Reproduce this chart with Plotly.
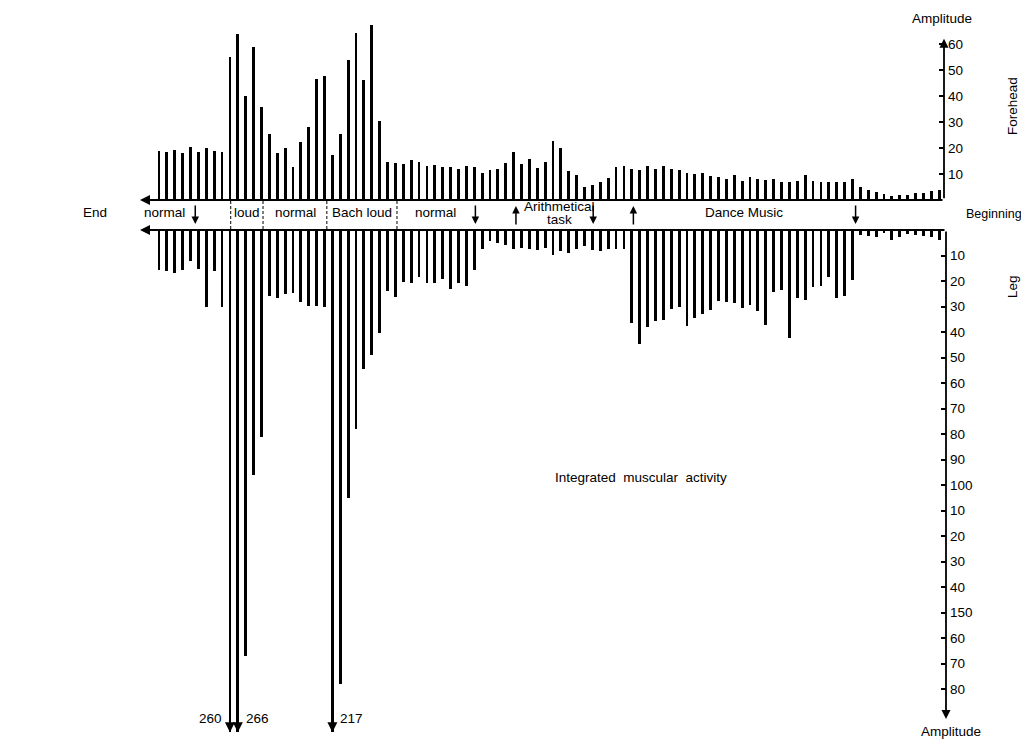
import plotly.graph_objects as go

# ---- data (intervals shown left to right: End ... Beginning) ----
forehead = [19, 18.3, 19.2, 18, 20.5, 18.3, 19.9, 19, 18.3,
            54.9, 64, 40, 59, 35.6, 25.4, 18, 20, 12.8, 22.4, 28.2,
            46.5, 47.6, 17.4, 25.4, 53.8, 64.2, 46, 67.3, 30.3, 14.5,
            14.1, 14, 15.5, 14.5, 13.1, 13.3, 12.8, 12.8, 12, 13.1,
            12.8, 10.3, 11.5, 12, 14.4, 18.3, 13.8, 15.6, 12.2, 14.6,
            22.8, 19.9, 11.2, 9.5, 4.9, 5.6, 6.9, 8.3, 12.6, 13,
            12, 11.4, 13, 11.8, 13, 11.8, 11.4, 10.5, 10.1, 10.5,
            9.2, 9, 8.2, 9.5, 7.3, 9, 7.9, 7.7, 8.2, 6.9,
            6.9, 7.4, 9.5, 7.4, 6.9, 6.9, 6.9, 6.9, 8.2, 5,
            3.7, 3, 2.5, 1.7, 1.8, 2, 2.7, 2.7, 3.5, 4]
leg = [15.6, 16, 16.9, 15.6, 12, 15.2, 30.3, 16, 30.3,
       260, 266, 167, 96, 81, 26, 26.7, 25, 24.7, 28.3, 29.7,
       29.7, 30, 217, 178, 105, 78, 54.5, 49, 40.4, 23.8,
       26.3, 20.4, 20.8, 18.5, 20.9, 20.9, 19.3, 23.3, 20.7, 22,
       15.7, 7.6, 4.3, 5, 6, 7.6, 6.9, 7.6, 7.8, 6.9,
       9.9, 8.4, 8.9, 7.3, 6.3, 7.8, 8.4, 7.3, 7.3, 7.3,
       36.3, 44.8, 37.9, 35.7, 35.4, 31.1, 30, 37.6, 34.4, 33,
       31.5, 28, 28.3, 28.7, 30.6, 29.6, 31.6, 37.1, 24.4, 23.5,
       42.3, 26.5, 27.3, 22.2, 22.1, 18.6, 26.5, 26, 19.5, 2.1,
       2.3, 2.6, 1, 3.9, 2.6, 1.7, 2.1, 2.3, 2.6, 3.9]
intervals = list(range(1, len(forehead) + 1))

forehead_ticks = [10, 20, 30, 40, 50, 60]
leg_tickvals = [10, 20, 30, 40, 50, 60, 70, 80, 90, 100,
                110, 120, 130, 140, 150, 160, 170, 180]
leg_ticktext = ["10", "20", "30", "40", "50", "60", "70", "80", "90", "100",
                "10", "20", "30", "40", "150", "60", "70", "80"]

# phase labels in the band between the two base lines (position in interval units)
phase_labels = ["normal", "loud", "normal", "Bach loud", "normal",
                "Arithmetical<br>task", "Dance Music"]
phase_pos = [1.7, 12.2, 18.3, 26.8, 36.1, 51.8, 75.2]
phase_dividers = [10.1, 14.2, 22.3, 31.2]
# event arrows: (position, direction)
event_pos = [5.6, 41.15, 46.3, 56.1, 61.2, 89.4]
event_dir = ["down", "down", "up", "down", "up", "down"]

# ---- geometry helpers (page has an 8px body margin) ----
W, H = 1029, 740
OFF = 8
def px(x):
    return (x - OFF) / W
def py(y):
    return 1 - (y - OFF) / H

LEG_CAP = 197.0   # leg bars beyond this run off the chart (drawn with arrows)
leg_shown = [min(v, LEG_CAP) for v in leg]
FONT = "Liberation Sans, Arial, Helvetica, sans-serif"
FS = 13.5
TXT = dict(family=FONT, size=FS, color="black")

fig = go.Figure()
fig.add_trace(go.Bar(x=intervals, y=forehead, width=0.36, marker_color="black",
                     marker_line_width=0, xaxis="x", yaxis="y", name="Forehead"))
fig.add_trace(go.Bar(x=intervals, y=leg_shown, width=0.36, marker_color="black",
                     marker_line_width=0, xaxis="x", yaxis="y2", name="Leg"))

STEP = 7.88
x0 = 1 - (159 - OFF) / STEP
x1 = 1 + (W - 159 + OFF) / STEP
axis_x = 944

fig.update_layout(
    width=W, height=H, margin=dict(l=0, r=0, t=0, b=0),
    paper_bgcolor="white", plot_bgcolor="white", showlegend=False,
    bargap=0,
    font=TXT,
    xaxis=dict(domain=[0, 1], range=[x0, x1], visible=False),
    yaxis=dict(domain=[py(200), py(20)], range=[0, (200 - 20) / 2.6],
               anchor="free", position=px(axis_x), side="right",
               showline=False, showgrid=False, zeroline=False,
               ticks="inside", ticklen=5, tickwidth=1.5, tickcolor="black",
               tickvals=forehead_ticks, ticklabelstandoff=3,
               tickfont=TXT),
    yaxis2=dict(domain=[py(735), py(230)], range=[(735 - 230) / 2.55, 0],
                anchor="free", position=px(axis_x + 2), side="right",
                showline=False, showgrid=False, zeroline=False,
                ticks="inside", ticklen=5, tickwidth=1.5, tickcolor="black",
                tickvals=leg_tickvals, ticktext=leg_ticktext, ticklabelstandoff=3,
                tickfont=TXT),
)

ann = []
def text_ann(x, y, t, xref="paper", yref="paper", angle=0, size=FS):
    return dict(x=x, y=y, xref=xref, yref=yref, text=t, showarrow=False,
                xanchor="center", yanchor="middle", textangle=angle,
                font=dict(family=FONT, size=size, color="black"))

# base lines with arrow heads pointing left (towards End)
ann.append(dict(x=px(140), y=0, xref="paper", yref="y", showarrow=True, text="",
                ax=axis_x - 140, ay=0, arrowhead=2, arrowsize=1, arrowwidth=2,
                arrowcolor="black"))
ann.append(dict(x=px(140), y=0, xref="paper", yref="y2", showarrow=True, text="",
                ax=axis_x + 2 - 140, ay=0, arrowhead=2, arrowsize=1, arrowwidth=2,
                arrowcolor="black"))
# vertical amplitude axes with arrow heads
ann.append(dict(x=px(axis_x), y=62, xref="paper", yref="y", showarrow=True, text="",
                ax=0, ay=161, arrowhead=2, arrowsize=1, arrowwidth=1.8,
                arrowcolor="black"))
ann.append(dict(x=px(axis_x + 2), y=191.8, xref="paper", yref="y2", showarrow=True,
                text="", ax=0, ay=-489, arrowhead=2, arrowsize=1, arrowwidth=1.8,
                arrowcolor="black"))

# off-scale leg bars: arrow heads and value labels
for i, v in enumerate(leg):
    if v > LEG_CAP:
        ann.append(dict(x=intervals[i], y=LEG_CAP, xref="x", yref="y2", showarrow=True,
                        text="", ax=0, ay=-14, arrowhead=2, arrowsize=1, arrowwidth=2,
                        arrowcolor="black"))
        left = (i + 1 < len(leg) and leg[i + 1] > LEG_CAP)
        ann.append(dict(x=intervals[i], y=191.5, xref="x", yref="y2", showarrow=False,
                        text=str(int(v)), xanchor="right" if left else "left",
                        xshift=-6 if left else 6, yanchor="middle", font=TXT))

# phase labels (multi-line labels get tight line spacing)
for lab, p in zip(phase_labels, phase_pos):
    lines = lab.split("<br>")
    n = len(lines)
    for k, line in enumerate(lines):
        yy = 213 + (k - (n - 1) / 2) * 12.5
        ann.append(text_ann(p, py(yy), line, xref="x"))
# event arrows in the band
for p, d in zip(event_pos, event_dir):
    if d == "down":
        ann.append(dict(x=p, y=py(224), xref="x", yref="paper", text="", showarrow=True,
                        ax=0, ay=-20, arrowhead=2, arrowsize=1, arrowwidth=1.5,
                        arrowcolor="black"))
    else:
        ann.append(dict(x=p, y=py(206), xref="x", yref="paper", text="", showarrow=True,
                        ax=0, ay=20, arrowhead=2, arrowsize=1, arrowwidth=1.5,
                        arrowcolor="black"))

# texts
ann += [
    text_ann(px(95), py(213), "End"),
    text_ann(px(994), py(214), "Beginning", size=12.5),
    text_ann(px(942), py(19), "Amplitude"),
    text_ann(px(951), py(731), "Amplitude"),
    text_ann(px(1013), py(106), "Forehead", angle=-90),
    text_ann(px(1012), py(287), "Leg", angle=-90),
    text_ann(px(641), py(477), "Integrated  muscular  activity"),
]
fig.update_layout(annotations=ann)

# dashed phase dividers
shapes = []
for d in phase_dividers:
    shapes.append(dict(type="line", xref="x", yref="paper", x0=d, x1=d,
                       y0=py(229), y1=py(201),
                       line=dict(color="black", width=1, dash="3px,2px")))
fig.update_layout(shapes=shapes)

fig.write_html("out.html")
